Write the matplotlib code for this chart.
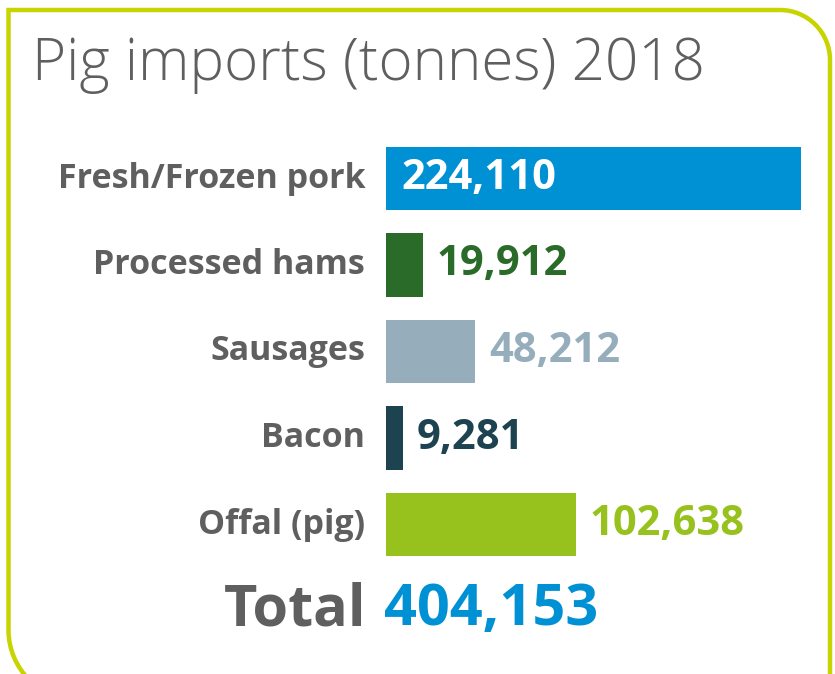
import matplotlib
matplotlib.use("Agg")
import matplotlib.pyplot as plt
from matplotlib.path import Path
from matplotlib.patches import PathPatch
from matplotlib.transforms import Affine2D

categories = ["Fresh/Frozen pork", "Processed hams", "Sausages", "Bacon", "Offal (pig)"]
values = [224110, 19912, 48212, 9281, 102638]
value_labels = ["224,110", "19,912", "48,212", "9,281", "102,638"]
total_label = "404,153"
title = "Pig imports (tonnes) 2018"

colors = ["#0090D4", "#2A6B2A", "#96AEBB", "#1E4350", "#97C21E"]
grey = "#5F5F5F"
border = "#C8D400"

W, H = 835, 674
fig = plt.figure(figsize=(W / 100, H / 100), dpi=100)
fig.patch.set_facecolor("white")

def fx(px):
    return px / W

def fy(py):
    return 1 - py / H

# bar axes
top_px, bot_px = 135.25, 567.75
ax = fig.add_axes([fx(386), fy(bot_px), fx(801) - fx(386), (bot_px - top_px) / H])
ax.set_xlim(0, values[0])
ax.set_ylim(len(categories) - 0.5, -0.5)
ax.axis("off")
ypos = list(range(len(categories)))
ax.barh(ypos, values, height=0.73, color=colors)

fam = ["Open Sans", "DejaVu Sans"]
for i, (c, v, lab) in enumerate(zip(categories, values, value_labels)):
    ax.annotate(c, xy=(0, i), xytext=(-15, 0), textcoords="offset points",
                ha="right", va="center", fontsize=24.5, fontweight="bold",
                color=grey, family=fam)
    if i == 0:
        ax.annotate(lab, xy=(0, i), xytext=(11, 0), textcoords="offset points",
                    ha="left", va="center", fontsize=30, fontweight="bold",
                    color="white", family=fam)
    else:
        ax.annotate(lab, xy=(v, i), xytext=(10, 0), textcoords="offset points",
                    ha="left", va="center", fontsize=30, fontweight="bold",
                    color=colors[i], family=fam)

# total
fig.text(fx(366), fy(610), "Total", ha="right", va="center", fontsize=41.5,
         fontweight="bold", color=grey, family=fam)
fig.text(fx(384), fy(610), total_label, ha="left", va="center", fontsize=41.5,
         fontweight="bold", color=colors[0], family=fam)

# title
fig.text(fx(32), fy(65), title, ha="left", va="center", fontsize=42,
         fontweight="light", color=grey, family=fam)

# border path in pixel coords (y down)
xl, xr, yt, yb = 8.5, 830, 10, 700
R1, R2 = 70, 50
k = 0.5523
verts = [
    (xl, yb - R1),
    (xl, yt),
    (xr - R2, yt),
    (xr - R2 + k * R2, yt), (xr, yt + R2 - k * R2), (xr, yt + R2),
    (xr, yb + 50),
]
codes = [Path.MOVETO, Path.LINETO, Path.LINETO,
         Path.CURVE4, Path.CURVE4, Path.CURVE4, Path.LINETO]
verts2 = [
    (xl, yb - R1),
    (xl, yb - R1 + k * R1), (xl + R1 - k * R1, yb), (xl + R1, yb),
]
codes2 = [Path.MOVETO, Path.CURVE4, Path.CURVE4, Path.CURVE4]
tr = Affine2D().scale(1 / W, -1 / H).translate(0, 1) + fig.transFigure
for vv, cc in [(verts, codes), (verts2, codes2)]:
    p = PathPatch(Path(vv, cc), fill=False, edgecolor=border, lw=3.2,
                  transform=tr, capstyle="butt", joinstyle="miter")
    fig.patches.append(p)

fig.savefig("out.png", dpi=100, facecolor="white")
